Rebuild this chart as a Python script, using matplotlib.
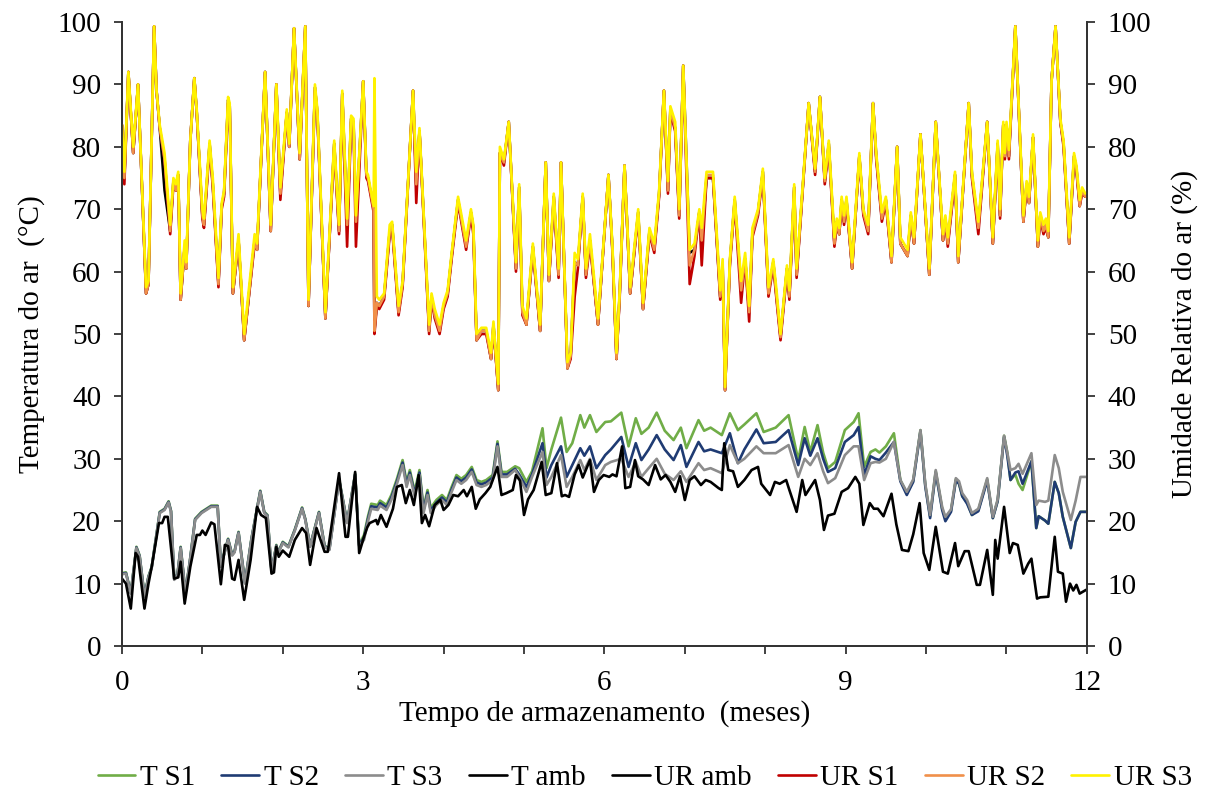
import matplotlib
matplotlib.use("Agg")
import matplotlib.pyplot as plt

# ---------------- DATA (months, values) ----------------
T_AMB = [(0.00,10.8),(0.05,10),(0.11,6.0),(0.17,14.9),(0.20,14.3),(0.28,6.0),(0.33,10),(0.37,12.7),(0.46,19.7),(0.50,19.7),
         (0.53,20.7),(0.57,20.7),(0.65,10.8),(0.70,11),(0.73,13.5),(0.78,6.8),(0.85,12.7),(0.93,17.8),(0.97,17.8),(1.00,18.5),
         (1.04,17.8),(1.11,19.8),(1.15,19.5),(1.23,9.9),(1.28,16.2),(1.32,16),(1.37,10.8),(1.40,10.6),(1.45,13.8),(1.52,7.4),
         (1.60,13.8),(1.68,22.3),(1.73,21),(1.79,20.5),(1.86,11.6),(1.89,11.8),(1.92,15.9),(1.95,14.3),(2.00,15.3),(2.08,14.3),
         (2.15,17),(2.24,18.9),(2.29,18.1),(2.34,13),(2.42,18.9),(2.47,17),(2.52,15.1),(2.56,15.1),(2.70,27.7),(2.78,17.5),
         (2.81,17.5),(2.90,27.9),(2.95,14.9),(3.01,17.5),(3.05,19),(3.08,19.7),(3.13,20),(3.16,20.2),(3.18,19.5),(3.22,21),
         (3.29,19.1),(3.37,22),(3.42,25.5),(3.48,25.8),(3.53,22.9),(3.58,25),(3.63,22.6),(3.69,27.4),(3.73,19.7),(3.77,21),
         (3.82,19.2),(3.89,22.6),(3.96,23.4),(4.00,21.8),(4.06,22.6),(4.12,24.2),(4.18,24),(4.25,25),(4.29,24),(4.35,25.5),
         (4.40,22),(4.45,23.5),(4.52,24.5),(4.58,25.5),(4.67,28.7),(4.72,24.2),(4.78,24.5),(4.86,25),(4.90,27.4),(4.95,26.5),
         (5.00,21),(5.05,23.5),(5.12,25),(5.22,29.5),(5.27,24.2),(5.34,24.5),(5.41,29.3),(5.47,24),(5.51,24.2),(5.56,23.9),
         (5.63,27.5),(5.68,29),(5.73,27),(5.82,29.8),(5.87,24.7),(5.93,26.6),(5.99,27.4),(6.06,27.1),(6.10,27.5),(6.15,27.2),
         (6.22,32),(6.26,25.3),(6.32,25.5),(6.38,29.8),(6.42,27.2),(6.48,26.7),(6.55,25.8),(6.63,29),(6.70,26.7),(6.76,27.4),
         (6.82,26.3),(6.88,24.7),(6.94,27.2),(7.00,23.4),(7.06,26.6),(7.12,27.2),(7.20,25.8),(7.26,26.6),(7.32,26.3),(7.42,25.3),
         (7.46,25),(7.49,32.5),(7.54,28.2),(7.60,28),(7.66,25.5),(7.74,26.6),(7.83,28.2),(7.91,28.7),(7.95,26),(8.06,24.2),
         (8.12,26.3),(8.18,26),(8.26,26.6),(8.30,25),(8.39,21.5),(8.46,26.6),(8.50,24.2),(8.62,26.6),(8.68,23.4),(8.73,18.6),
         (8.78,20.9),(8.86,21.2),(8.95,24.7),(9.03,25.3),(9.12,27.1),(9.17,26),(9.22,19.4),(9.30,22.9),(9.35,22),(9.40,22),
         (9.47,20.8),(9.57,24.4),(9.63,19.5),(9.70,15.4),(9.78,15.2),(9.84,17.9),(9.92,22.9),(9.97,14.9),(10.04,12.2),(10.12,19.1),
         (10.21,11.9),(10.27,11.6),(10.36,16.5),(10.40,12.8),(10.48,15.2),(10.53,15.2),(10.63,9.8),(10.67,9.8),(10.76,15.4),(10.83,8.2),
         (10.86,17),(10.89,14),(10.97,22.3),(11.04,14.9),(11.08,16.5),(11.14,16.2),(11.21,11.6),(11.27,13.2),(11.31,14),(11.38,7.6),
         (11.42,7.8),(11.52,7.9),(11.60,17.5),(11.64,11.9),(11.70,11.6),(11.74,7.1),(11.79,10),(11.83,8.9),(11.87,9.8),(11.91,8.4),
         (11.99,9)]

T_X = [0.00,0.05,0.11,0.18,0.22,0.28,0.33,0.37,0.47,0.53,
       0.58,0.61,0.65,0.69,0.73,0.79,0.85,0.91,0.99,1.11,
       1.19,1.23,1.32,1.37,1.40,1.45,1.53,1.61,1.72,1.77,
       1.81,1.86,1.92,1.94,2.00,2.07,2.15,2.24,2.28,2.34,
       2.45,2.52,2.58,2.70,2.80,2.90,2.95,3.01,3.06,3.10,
       3.18,3.21,3.29,3.35,3.42,3.49,3.54,3.58,3.64,3.70,
       3.75,3.80,3.84,3.91,3.98,4.04,4.10,4.16,4.22,4.28,
       4.35,4.41,4.47,4.53,4.61,4.67,4.72,4.79,4.89,4.94,
       5.03,5.10,5.23,5.28,5.34,5.46,5.53,5.60,5.70,5.75,
       5.82,5.90,6.01,6.08,6.21,6.30,6.39,6.46,6.55,6.65,
       6.75,6.86,6.95,7.02,7.17,7.24,7.32,7.46,7.56,7.66,
       7.74,7.89,7.98,8.13,8.29,8.41,8.49,8.56,8.65,8.72,
       8.78,8.87,8.99,9.10,9.16,9.23,9.31,9.37,9.42,9.50,
       9.60,9.68,9.76,9.84,9.93,9.99,10.05,10.12,10.20,10.24,
       10.31,10.37,10.41,10.45,10.51,10.57,10.65,10.76,10.83,10.89,
       10.97,11.01,11.05,11.11,11.15,11.20,11.31,11.37,11.40,11.48,
       11.52,11.60,11.65,11.70,11.80,11.86,11.92,11.99]

T_S3 = [11.5,11.6,8.4,15.7,14.3,7.9,11,12.5,21.3,21.8,
        23,21.5,10.6,11.3,15.7,8.4,14,20.2,21.3,22.3,
        22.3,12.7,17,14.5,15,18.1,10,17,24.7,21.3,
        20.8,11.9,16,14.8,16.5,15.8,18.5,22,20.2,15.9,
        21.3,15.9,15.4,26.6,19.7,27.4,16,17,20,22,
        21.8,22.5,21.8,23.4,26,29,25.5,27.4,24,27.4,
        21.3,24.2,21.3,22.6,23.4,22.6,24.7,26.6,26,26.6,
        27.9,25.8,25.5,25.8,26.6,32,27.1,27.1,28.2,27.1,
        24.7,27.1,31.1,25.8,27.1,30.6,25.5,27.1,29.8,28.2,
        30,26.6,29,29.5,30,27.1,29.5,27.1,28.5,30,
        27.6,26.6,28,26.3,29.3,28.2,28.5,27.7,32.2,29.3,
        30,32,30.9,30.9,32.2,27.1,30,29,30.9,28,
        26.1,26.9,30.6,32,32,26.6,29.3,29.5,29.4,30,
        32.7,26.6,24.7,26.7,34.6,26,21,28.2,22.3,20.7,
        21.9,26.9,26.4,24.5,23.4,21.3,22,26.9,20.7,23.5,
        33.7,31,28.2,28.5,29.2,27.6,30.9,22.6,23.3,23.1,
        23.3,30.6,28.5,24.7,20.2,23.3,27.1,27.1]

T_S1 = [11.7,11.8,8.6,15.9,14.5,8.1,11.2,12.7,21.5,22,
        23.2,21.7,10.8,11.5,15.9,8.6,14.2,20.4,21.5,22.5,
        22.5,12.9,17.2,14.7,15.2,18.3,10.2,17.2,24.9,21.5,
        21,12.1,16.2,15,16.7,16,18.7,22.2,20.4,16.1,
        21.5,16.1,15.6,26.8,19.9,27.6,16.2,17.8,20.8,22.8,
        22.6,23.3,22.6,24.2,26.8,29.8,26.3,28.2,24.8,28.2,
        22.1,25,22.1,23.4,24.2,23.4,25.5,27.4,26.8,27.4,
        28.7,26.6,26.3,26.6,27.4,32.8,27.9,27.9,28.8,28.5,
        26.3,28,34.9,28.5,31.5,36.6,31.1,32.5,37,35,
        37,34.3,35.9,36,37.4,32,36.5,34,35,37.4,
        34.5,33,35,31.7,36.2,34.5,35,33.8,37.3,34.6,
        35.5,37.3,34.3,35,37,29.8,35.1,31.1,35.4,31,
        28.5,29.5,34.6,35.9,37.3,28.7,31.1,31.5,31,32,
        34.1,26.6,24.5,26.5,34.6,25.8,20.8,28,22,20.5,
        21.7,26.7,26,24,23,21,21.8,26.7,20.5,23.3,
        33.7,31,26.6,27.5,26,25,29.6,18.9,20.8,20.1,
        19.6,26.3,24.5,20.7,15.7,19.9,21.5,21.5]

T_S2 = [11.6,11.7,8.5,15.8,14.4,8,11.1,12.6,21.4,21.9,
        23.1,21.6,10.7,11.4,15.8,8.5,14.1,20.3,21.4,22.4,
        22.4,12.8,17.1,14.6,15.1,18.2,10.1,17.1,24.8,21.4,
        20.9,12,16.1,14.9,16.6,15.9,18.6,22.1,20.3,16,
        21.4,16,15.5,26.7,19.8,27.5,16.1,17.4,20.4,22.4,
        22.2,22.9,22.2,23.8,26.4,29.4,25.9,27.8,24.4,27.8,
        21.7,24.6,21.7,23,23.8,23,25.1,27,26.4,27,
        28.3,26.2,25.9,26.2,27,32.4,27.5,27.5,28.4,27.5,
        25.5,27.5,32.5,27,29,32,27.1,29,31.7,30.5,
        32,28.5,30.6,31.5,33.5,28.7,32.5,29.8,31.5,33.8,
        31.5,29.8,32.2,28.7,32.7,31.2,31.5,30.9,34.1,29.3,
        31.5,34.7,32.5,32.7,34.6,29,33.3,30.5,33.3,30,
        27.9,28.5,32.7,33.8,35.1,27.4,30.4,30,29.8,31,
        32.7,26.4,24.2,26.3,34.4,25.6,20.5,27.8,21.8,20,
        21.5,26.5,26,24,22.8,21,21.6,26.5,20.5,23.2,
        33.5,30.5,26.6,27.8,28,26,29.6,18.9,20.8,20.1,
        19.6,26.3,24.5,20.7,15.7,19.9,21.5,21.5]

UR_X = [0.00,0.03,0.08,0.14,0.20,0.30,0.33,0.40,0.43,0.47,
        0.53,0.60,0.64,0.67,0.70,0.73,0.78,0.80,0.85,0.90,
        0.93,1.00,1.02,1.09,1.13,1.20,1.24,1.27,1.32,1.34,
        1.38,1.45,1.52,1.65,1.68,1.78,1.85,1.92,1.97,2.05,
        2.08,2.14,2.21,2.28,2.32,2.40,2.43,2.53,2.64,2.70,
        2.74,2.80,2.85,2.88,2.91,3.00,3.04,3.06,3.13,3.14,
        3.17,3.20,3.26,3.33,3.36,3.44,3.49,3.62,3.66,3.70,
        3.75,3.82,3.85,3.89,3.95,4.00,4.05,4.10,4.18,4.28,
        4.34,4.37,4.41,4.47,4.53,4.59,4.62,4.68,4.70,4.75,
        4.81,4.90,4.94,4.98,5.03,5.11,5.20,5.27,5.31,5.37,
        5.43,5.46,5.54,5.58,5.63,5.67,5.73,5.77,5.82,5.92,
        6.05,6.10,6.15,6.19,6.25,6.32,6.42,6.48,6.56,6.62,
        6.68,6.74,6.79,6.82,6.88,6.93,6.98,7.06,7.12,7.18,
        7.21,7.27,7.35,7.44,7.47,7.50,7.56,7.62,7.70,7.75,
        7.80,7.84,7.91,7.97,8.04,8.10,8.14,8.19,8.27,8.30,
        8.36,8.39,8.54,8.62,8.68,8.74,8.79,8.86,8.89,8.92,
        8.95,8.98,9.01,9.08,9.17,9.22,9.28,9.34,9.38,9.45,
        9.50,9.57,9.64,9.68,9.77,9.81,9.85,9.93,10.04,10.12,
        10.21,10.24,10.27,10.36,10.40,10.53,10.57,10.65,10.76,10.83,
        10.89,10.92,10.96,10.98,11.00,11.03,11.11,11.21,11.25,11.28,
        11.33,11.39,11.42,11.46,11.49,11.52,11.56,11.61,11.67,11.71,
        11.78,11.84,11.87,11.91,11.94,11.98]

UR_S3 = [83.5,76,92,80,90,57.5,58.5,99.3,89,83.5,
         79,67.5,75,74,76,56.5,65,61.5,81,91,
         86,70,68.5,81,75,59,71,73,88,87,
         57.5,66,50,66,64.5,92,67.5,90,73.5,86,
         80.5,99,79,99.3,55.5,90,86,53.5,81,67.5,
         89,68.5,85,84.5,69,90.5,76,75.5,70.5,91,
         56,55.5,56.5,67.5,68,54.5,58.5,89,76,83,
         70,51.5,56.5,54,51.5,55,57,63,72,65,
         70,67.5,50,51,51,47,52,42,80,78,
         84,61.5,74,54.5,52.5,64.5,51.5,77.5,59.5,72.5,
         60.5,77.5,45.5,47,63,62,72.5,60.5,66,52.5,
         75.5,64,47,57,77,57.5,70,55,67,64.5,
         73,89,74.5,86.5,84,70,93,63.5,64.5,70,
         67,76,76,57,62,41.5,62,72,58.5,63,
         54.5,67,70,76.5,57.5,62,57,50,61,57,
         74,60.5,87,76.5,88,75,81,65.5,68.5,67,
         72,69,72,61.5,79,70,67.5,87,79,69.5,
         72,62.5,80,65.5,63.5,69.5,65.5,82,60.5,84,
         66,69,65.5,76,62.5,87,76,68,84,65.5,
         81,70,84,79,84,79.5,99.3,69,74.5,72,
         82,65,69.5,67.5,68.5,66.5,90.5,99.3,84.5,81,
         65.5,79,77,71.5,73.5,72.5]

UR_S2 = [83.5,75,92,79,90,56.5,58,99.3,89,83,
         78,66.5,74.5,73,75.5,55.5,64,60.5,81,91,
         85.5,69,67.5,80.5,74,58,70.5,72.5,87.5,86.5,
         56.5,65,49,65,63.5,92,66.5,90,72.5,85.5,
         80,99,78,99.3,54.5,89.5,85.5,52.5,80.5,66.5,
         88.5,67.5,84.5,84,68,90.5,75.5,75,70,50.5,
         55,54.5,56,66.5,67.5,53.5,58,89,74,82.5,
         69.5,50.5,56,53,50.5,54.5,56.5,62.5,71.5,64,
         69.5,67,49,50.5,50.5,46,51.5,41,79,77.5,
         84,60.5,73.5,53.5,51.5,64,50.5,77.5,58.5,72,
         59.5,77.5,44.5,46.5,61.5,61,72,59.5,65,51.5,
         75.5,63.5,46,56.5,77,56.5,69.5,54,66.5,63.5,
         72.5,89,73,86,83,69,93,61,63.5,69.5,
         65,75.5,75.5,56,61,41,61.5,71.5,57,62,
         53.5,66,69.5,76,56.5,61.5,56,49.5,60.5,56,
         73.5,59.5,87,76,88,74.5,80.5,64.5,68,66,
         71.5,68,71.5,60.5,78.5,69.5,66.5,87,78.5,68.5,
         71.5,61.5,80,64.5,62.5,69,64.5,82,59.5,84,
         65,68.5,64.5,75.5,61.5,87,75.5,67,84,64.5,
         80.5,69,83.5,78.5,83.5,78.5,99.3,68,74,71,
         81.5,64,69,66.5,67.5,65.5,90.5,99.3,84,80.5,
         64.5,78.5,76.5,70.5,73,72]

UR_S1 = [83.5,74,92,79,90,56.5,58,99.3,89,83,
         78,66,74,73,75.5,55.5,64,60.5,81,91,
         85.5,68.5,67,80,73.5,57.5,70,72,87,86.5,
         56.5,65,49,64.5,63.5,92,66.5,90,71.5,85.5,
         80,99,78,99.3,54.5,89,85,52.5,80,66,
         88.5,64,84,83.5,64,90.5,75,74.5,69.5,50,
         54.5,54,55.5,66,67,53,57.5,89,71,82.5,
         69,50,55.5,52.5,50,54,56,62,71,63.5,
         69,66,49,50,50,46,51,41,79,77,
         84,60,73,53,51.5,63.5,50.5,77.5,58.5,71.5,
         59,77.5,44.5,46,56,60.5,72,59,64.5,51.5,
         75.5,63,46,56,77,56.5,69,54,66,63,
         72,89,72.5,85.5,82.5,68.5,93,58,62.5,69.5,
         61,75,75,55.5,60,41,61,71,55,62,
         52,65.5,69,75.5,56,61,55.5,49,60,55.5,
         73,59,87,75.5,88,74,80,64,67.5,66,
         71,67.5,71,60.5,78.5,69,66,87,78,68,
         71,61.5,80,64.5,62.5,68.5,64.5,82,59.5,84,
         65,68,64,75,61.5,87,75,66,84,64.5,
         80,68.5,83.5,78,83.5,78,99.3,68,73.5,71,
         81.5,64,68.5,66,67,65.5,90.5,99.3,84,80,
         64.5,78,76,70.5,72.5,72]

UR_AMB = [83.5,75,92,79,90,56.5,58,99.3,89,83,
          73,66.5,74.5,73,75.5,55.5,64,60.5,81,91,
          85.5,69,67.5,80.5,74,58,70.5,72.5,87.5,86.5,
          56.5,65,49,65,63.5,92,66.5,90,72.5,85.5,
          80,99,78,99.3,54.5,89.5,85.5,52.5,80.5,66.5,
          88.5,67.5,84.5,84,68,90.5,75.5,75,70,50.5,
          55,54.5,56,66.5,67.5,53.5,58,89,74,82.5,
          69.5,50.5,56,53,50.5,54.5,56.5,62.5,71.5,64,
          69.5,67,49,50.5,50.5,46,51.5,41,79,77.5,
          84,60.5,73.5,53.5,51.5,64,50.5,77.5,58.5,72,
          59.5,77.5,44.5,46.5,61.5,61,72,59.5,65,51.5,
          75.5,63.5,46,56.5,77,56.5,69.5,54,66.5,63.5,
          72.5,89,73,86,83,69,93,63,63.5,69.5,
          65,75,75,56,61,41,61.5,71.5,57,62,
          53.5,66,69.5,76,56.5,61.5,56,49.5,60.5,56,
          73.5,59.5,87,76,88,74.5,80.5,64.5,68,66,
          71.5,68,71.5,60.5,78.5,69.5,66.5,87,78.5,68.5,
          71.5,61.5,80,64.5,62.5,69,64.5,82,59.5,84,
          65,68.5,64.5,75.5,61.5,87,75.5,67,84,64.5,
          80.5,69,83.5,78.5,83.5,78.5,99.3,68,74,71,
          81.5,64,69,66.5,67.5,65.5,90.5,99.3,84,80.5,
          64.5,78.5,76.5,70.5,73,72]

X_TICKS = list(range(0, 13))
X_TICK_LABELS = ["0", "", "", "3", "", "", "6", "", "", "9", "", "", "12"]
Y_TICKS = list(range(0, 101, 10))

for s in (T_S1, T_S2, T_S3):
    assert len(s) == len(T_X), len(s)
for s in (UR_S1, UR_S2, UR_S3, UR_AMB):
    assert len(s) == len(UR_X), len(s)

# ---------------- STYLE ----------------
plt.rcParams['font.family'] = ['Liberation Serif', 'DejaVu Serif']
FS = 21
LW = 1.9
C_TS1 = '#70AD47'
C_TS2 = '#1F3B73'
C_TS3 = '#8C8C8C'
C_BLK = '#000000'
C_URS1 = '#C00000'
C_URS2 = '#F0904A'
C_URS3 = '#FFF200'
SPINE = '#333333'
kw = dict(lw=LW, solid_joinstyle='round', solid_capstyle='round')

fig = plt.figure(figsize=(12.05, 8.01), dpi=100)
ax1 = fig.add_axes([0.1012, 0.1935, 0.8008, 0.779])
ax2 = ax1.twinx()

ta_x = [p[0] for p in T_AMB]
ta_y = [p[1] for p in T_AMB]

h1, = ax1.plot(T_X, T_S1, color=C_TS1, label='T S1', **kw)
h2, = ax1.plot(T_X, T_S2, color=C_TS2, label='T S2', **kw)
h3, = ax1.plot(T_X, T_S3, color=C_TS3, label='T S3', **kw)
h4, = ax1.plot(ta_x, ta_y, color=C_BLK, label='T amb', **kw)

h5, = ax2.plot(UR_X, UR_AMB, color=C_BLK, label='UR amb', **kw)
h6, = ax2.plot(UR_X, UR_S1, color=C_URS1, label='UR S1', **kw)
h7, = ax2.plot(UR_X, UR_S2, color=C_URS2, label='UR S2', **kw)
h8, = ax2.plot(UR_X, UR_S3, color=C_URS3, label='UR S3', **kw)

for ax in (ax1, ax2):
    ax.set_xlim(0, 12)
    ax.set_ylim(0, 100)
    ax.set_yticks(Y_TICKS)
    ax.spines['top'].set_visible(False)
    for sp in ('left', 'right', 'bottom'):
        ax.spines[sp].set_color(SPINE)
        ax.spines[sp].set_linewidth(1.3)
    ax.tick_params(axis='both', direction='out', length=6, width=1.3,
                   colors=SPINE, labelcolor='black', labelsize=FS, pad=9)

ax1.set_xticks(X_TICKS)
ax1.set_xticklabels(X_TICK_LABELS)
ax1.tick_params(axis='x', pad=11)

ax1.set_ylabel('Temperatura do ar  (\u00b0C)', fontsize=FS, labelpad=9)
ax2.set_ylabel('Umidade Relativa do ar (%)', fontsize=FS, labelpad=14)
ax1.set_xlabel('Tempo de armazenamento  (meses)', fontsize=FS, labelpad=3)

fig.legend(handles=[h1, h2, h3, h4, h5, h6, h7, h8], loc='center',
           bbox_to_anchor=(0.535, 0.029), ncol=8, frameon=False, fontsize=FS,
           handlelength=1.3, handletextpad=0.15, columnspacing=0.9,
           borderaxespad=0)

fig.savefig('out.png', dpi=100)
